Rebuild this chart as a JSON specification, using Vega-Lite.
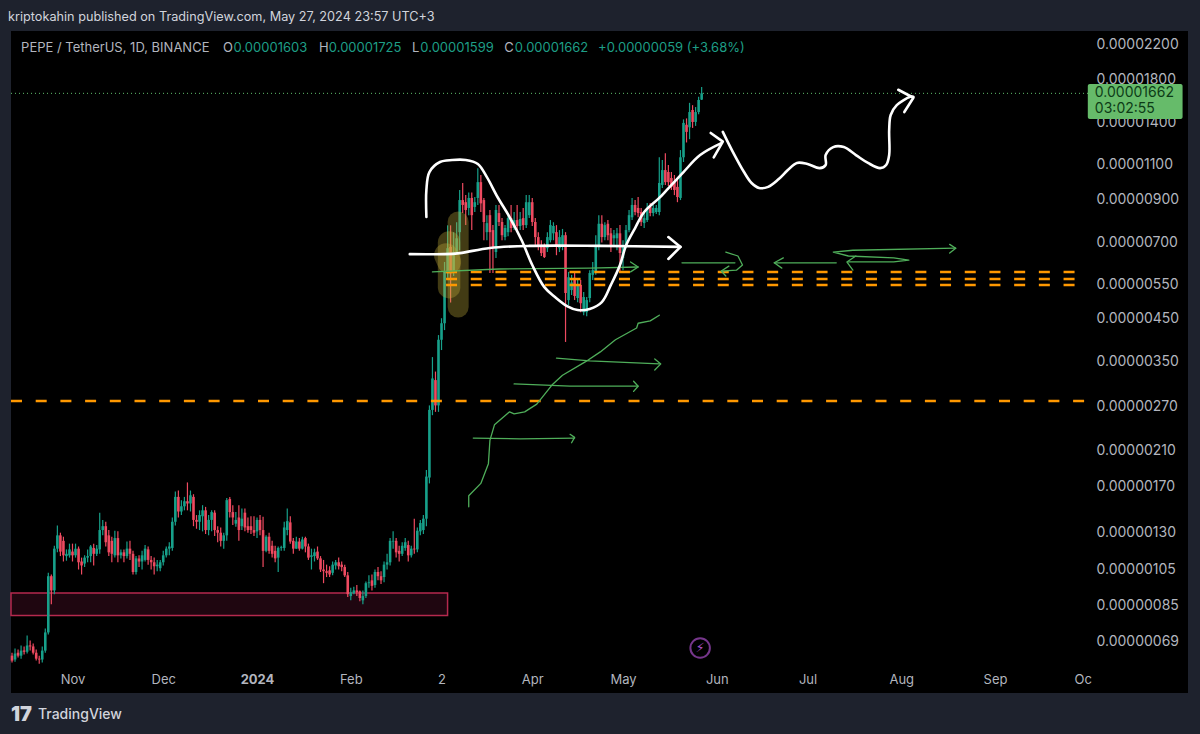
{"$schema":"https://vega.github.io/schema/vega-lite/v6.json","width":1177,"height":662,"autosize":"none","padding":{"left":11,"top":31,"right":12,"bottom":41},"background":"#1e222d","view":{"fill":"#000000","stroke":null},
"title":{"text":"kriptokahin published on TradingView.com, May 27, 2024 23:57 UTC+3","anchor":"start","frame":"group","orient":"top","offset":7,"dx":-3,"font":"Inter","fontSize":12.7,"fontWeight":"normal","color":"#d1d4dc"},
"datasets":{
"candles":[
{"t":"2023-10-12","o":63.7,"c":61.9,"h":64.8,"l":61.2},{"t":"2023-10-13","o":62.3,"c":64.5,"h":66.4,"l":61.5},{"t":"2023-10-14","o":64.8,"c":63.7,"h":66,"l":63},{"t":"2023-10-15","o":63.7,"c":65.6,"h":67.6,"l":62.6},{"t":"2023-10-16","o":65.6,"c":65.2,"h":67.2,"l":64.1},{"t":"2023-10-17","o":65.2,"c":67.6,"h":71.6,"l":64.5},{"t":"2023-10-18","o":67.6,"c":67.2,"h":69.6,"l":65.6},{"t":"2023-10-19","o":67.2,"c":64.8,"h":68.4,"l":64.1},{"t":"2023-10-20","o":64.8,"c":62.6,"h":66,"l":61.9},{"t":"2023-10-21","o":62.6,"c":62.3,"h":63.7,"l":60.8},
{"t":"2023-10-22","o":62.3,"c":65.6,"h":67.2,"l":61.2},{"t":"2023-10-23","o":65.6,"c":72.9,"h":74.6,"l":64.8},{"t":"2023-10-24","o":72.9,"c":101,"h":103,"l":72},{"t":"2023-10-25","o":101,"c":93,"h":102,"l":85.8},{"t":"2023-10-26","o":93,"c":118.5,"h":120.5,"l":91},{"t":"2023-10-27","o":118.5,"c":128,"h":135.5,"l":116},{"t":"2023-10-28","o":128,"c":116.5,"h":130,"l":113.5},{"t":"2023-10-29","o":124,"c":114,"h":127,"l":110},{"t":"2023-10-30","o":113.5,"c":115,"h":118,"l":110.5},{"t":"2023-10-31","o":114,"c":118,"h":122,"l":112.5},
{"t":"2023-11-01","o":116.5,"c":114,"h":122,"l":110},{"t":"2023-11-02","o":114,"c":118.5,"h":122,"l":112.5},{"t":"2023-11-03","o":118.5,"c":109.5,"h":120,"l":105},{"t":"2023-11-04","o":110,"c":107.5,"h":112.5,"l":102},{"t":"2023-11-05","o":108.7,"c":112.5,"h":114,"l":106.5},{"t":"2023-11-06","o":112.5,"c":113.5,"h":118,"l":109.5},{"t":"2023-11-07","o":113.5,"c":120,"h":121,"l":109.5},{"t":"2023-11-08","o":119,"c":115,"h":122,"l":107.5},{"t":"2023-11-09","o":115,"c":118.5,"h":121,"l":113.5},{"t":"2023-11-10","o":118,"c":132,"h":146,"l":115},
{"t":"2023-11-11","o":132,"c":135,"h":140,"l":128},{"t":"2023-11-12","o":135,"c":123,"h":138.5,"l":120},{"t":"2023-11-13","o":128,"c":116,"h":132,"l":113.5},{"t":"2023-11-14","o":124,"c":115,"h":127,"l":109.5},{"t":"2023-11-15","o":114,"c":126,"h":131.5,"l":112.5},{"t":"2023-11-16","o":126,"c":114,"h":131,"l":109.5},{"t":"2023-11-17","o":114,"c":116,"h":118,"l":112},{"t":"2023-11-18","o":116,"c":113.5,"h":118,"l":109.5},{"t":"2023-11-19","o":113.5,"c":118.5,"h":123.5,"l":112},{"t":"2023-11-20","o":118.5,"c":115,"h":124,"l":111},
{"t":"2023-11-21","o":115,"c":103.5,"h":117,"l":102},{"t":"2023-11-22","o":103.5,"c":112,"h":113.5,"l":102},{"t":"2023-11-23","o":112,"c":110,"h":114,"l":106.5},{"t":"2023-11-24","o":110,"c":114,"h":117,"l":105},{"t":"2023-11-25","o":111,"c":118.5,"h":121,"l":110},{"t":"2023-11-26","o":118,"c":111,"h":120,"l":108},{"t":"2023-11-27","o":111,"c":109.5,"h":113.5,"l":105},{"t":"2023-11-28","o":109.5,"c":107,"h":112.5,"l":102},{"t":"2023-11-29","o":107,"c":108,"h":111,"l":104},{"t":"2023-11-30","o":105.8,"c":109.5,"h":111,"l":104},
{"t":"2023-12-01","o":109.5,"c":114,"h":117,"l":107.5},{"t":"2023-12-02","o":114,"c":118.5,"h":120,"l":112.5},{"t":"2023-12-03","o":118.5,"c":120,"h":123,"l":114},{"t":"2023-12-04","o":119,"c":138.5,"h":142,"l":117},{"t":"2023-12-05","o":138.5,"c":160,"h":165,"l":135.5},{"t":"2023-12-06","o":160,"c":147,"h":166,"l":142},{"t":"2023-12-07","o":147,"c":151.5,"h":157,"l":144},{"t":"2023-12-08","o":151.5,"c":156,"h":160,"l":148},{"t":"2023-12-09","o":156,"c":154,"h":174,"l":148},{"t":"2023-12-10","o":154,"c":161.5,"h":166,"l":147},
{"t":"2023-12-11","o":160,"c":140,"h":162.5,"l":135},{"t":"2023-12-12","o":140,"c":138.5,"h":144,"l":133},{"t":"2023-12-13","o":138.5,"c":144,"h":148,"l":132},{"t":"2023-12-14","o":143,"c":148,"h":152.5,"l":131},{"t":"2023-12-15","o":148,"c":132,"h":151,"l":129},{"t":"2023-12-16","o":132,"c":140,"h":144,"l":128},{"t":"2023-12-17","o":140,"c":146.5,"h":148,"l":131},{"t":"2023-12-18","o":146,"c":132,"h":148,"l":127.5},{"t":"2023-12-19","o":132,"c":130,"h":135,"l":123},{"t":"2023-12-20","o":130,"c":124,"h":134,"l":120},
{"t":"2023-12-21","o":124,"c":128,"h":130,"l":118.5},{"t":"2023-12-22","o":128,"c":157,"h":159,"l":124},{"t":"2023-12-23","o":158,"c":146.5,"h":160,"l":142},{"t":"2023-12-24","o":146.5,"c":142,"h":152.5,"l":136},{"t":"2023-12-25","o":137,"c":140,"h":146.5,"l":134.5},{"t":"2023-12-26","o":142,"c":132,"h":152.5,"l":124},{"t":"2023-12-27","o":135,"c":141,"h":149.5,"l":132},{"t":"2023-12-28","o":146,"c":134,"h":149.5,"l":131},{"t":"2023-12-29","o":135,"c":132,"h":142,"l":130},{"t":"2023-12-30","o":135,"c":132,"h":143,"l":129},{"t":"2023-12-31","o":132,"c":130,"h":143,"l":127.5},
{"t":"2024-01-01","o":131,"c":140,"h":142,"l":126},{"t":"2024-01-02","o":140,"c":132,"h":144,"l":128},{"t":"2024-01-03","o":132,"c":117,"h":142.5,"l":106.5},{"t":"2024-01-04","o":117,"c":127,"h":128,"l":116},{"t":"2024-01-05","o":127,"c":117,"h":130,"l":115},{"t":"2024-01-06","o":120.5,"c":115,"h":124,"l":112.5},{"t":"2024-01-07","o":117,"c":112,"h":120.5,"l":109.5},{"t":"2024-01-08","o":112.5,"c":119,"h":120,"l":103.5},{"t":"2024-01-09","o":119,"c":119.5,"h":120.5,"l":117},{"t":"2024-01-10","o":119,"c":134,"h":138.5,"l":117},
{"t":"2024-01-11","o":132,"c":139,"h":149.5,"l":128},{"t":"2024-01-12","o":138,"c":123.5,"h":143,"l":122},{"t":"2024-01-13","o":124,"c":118.5,"h":126,"l":115},{"t":"2024-01-14","o":118.5,"c":123.5,"h":127,"l":118.5},{"t":"2024-01-15","o":123.5,"c":118.5,"h":126,"l":117},{"t":"2024-01-16","o":118.5,"c":125,"h":127,"l":118},{"t":"2024-01-17","o":126,"c":120,"h":127,"l":116},{"t":"2024-01-18","o":120,"c":112.5,"h":122,"l":111},{"t":"2024-01-19","o":113,"c":114,"h":118.5,"l":105},{"t":"2024-01-20","o":113.5,"c":116,"h":118.5,"l":110},
{"t":"2024-01-21","o":116.5,"c":112,"h":120,"l":111},{"t":"2024-01-22","o":112,"c":105,"h":113.5,"l":103.5},{"t":"2024-01-23","o":105,"c":104,"h":111,"l":97},{"t":"2024-01-24","o":104,"c":103,"h":108,"l":100.5},{"t":"2024-01-25","o":104.5,"c":102,"h":107,"l":100.5},{"t":"2024-01-26","o":103,"c":108,"h":110,"l":101.5},{"t":"2024-01-27","o":107.5,"c":109.5,"h":111,"l":105},{"t":"2024-01-28","o":109.5,"c":107,"h":112.5,"l":105},{"t":"2024-01-29","o":108,"c":106.5,"h":110,"l":104},{"t":"2024-01-30","o":106.5,"c":101.5,"h":108,"l":100.5},{"t":"2024-01-31","o":101.5,"c":91,"h":103.5,"l":89.5},
{"t":"2024-02-01","o":90,"c":92,"h":94.5,"l":87.8},{"t":"2024-02-02","o":91.5,"c":93,"h":95,"l":91},{"t":"2024-02-03","o":93,"c":92,"h":96,"l":90},{"t":"2024-02-04","o":92.5,"c":89,"h":93,"l":87.3},{"t":"2024-02-05","o":87.8,"c":90,"h":93,"l":85.8},{"t":"2024-02-06","o":90,"c":97,"h":98,"l":89},{"t":"2024-02-07","o":97,"c":97.5,"h":101.5,"l":94.5},{"t":"2024-02-08","o":98.6,"c":95.5,"h":102,"l":93},{"t":"2024-02-09","o":96,"c":103.5,"h":105,"l":94.5},{"t":"2024-02-10","o":103.5,"c":101,"h":106.5,"l":98.6},
{"t":"2024-02-11","o":101,"c":98.6,"h":104,"l":96.5},{"t":"2024-02-12","o":100.5,"c":108,"h":110,"l":97.5},{"t":"2024-02-13","o":108,"c":109.5,"h":115,"l":105},{"t":"2024-02-14","o":109.5,"c":124,"h":126,"l":107.5},{"t":"2024-02-15","o":123.5,"c":124,"h":131,"l":118.5},{"t":"2024-02-16","o":124,"c":116,"h":126,"l":112.5},{"t":"2024-02-17","o":117,"c":115,"h":120.5,"l":110},{"t":"2024-02-18","o":115,"c":120.5,"h":123,"l":113.5},{"t":"2024-02-19","o":119,"c":123,"h":126,"l":117},{"t":"2024-02-20","o":121,"c":114,"h":124,"l":110},
{"t":"2024-02-21","o":114,"c":118.5,"h":120.5,"l":112.5},{"t":"2024-02-22","o":118.5,"c":118,"h":141,"l":115},{"t":"2024-02-23","o":118,"c":131.5,"h":134,"l":116},{"t":"2024-02-24","o":131,"c":137.5,"h":140,"l":128},{"t":"2024-02-25","o":132,"c":141,"h":144,"l":129},{"t":"2024-02-26","o":141,"c":180,"h":187,"l":135},{"t":"2024-02-27","o":179,"c":265,"h":272,"l":173},{"t":"2024-02-28","o":265,"c":318,"h":360,"l":257},{"t":"2024-02-29","o":315,"c":272,"h":331,"l":262},
{"t":"2024-03-01","o":272,"c":398,"h":409,"l":262},{"t":"2024-03-02","o":398,"c":438,"h":451,"l":375},{"t":"2024-03-03","o":438,"c":590,"h":625,"l":421},{"t":"2024-03-04","o":590,"c":677,"h":773,"l":570},{"t":"2024-03-05","o":682,"c":586,"h":773,"l":494},{"t":"2024-03-06","o":590,"c":662,"h":743,"l":576},{"t":"2024-03-07","o":662,"c":717,"h":787,"l":654},{"t":"2024-03-08","o":743,"c":895,"h":949,"l":669},{"t":"2024-03-09","o":895,"c":870,"h":988,"l":830},{"t":"2024-03-10","o":884,"c":845,"h":921,"l":774},
{"t":"2024-03-11","o":855,"c":906,"h":935,"l":820},{"t":"2024-03-12","o":906,"c":820,"h":935,"l":752},{"t":"2024-03-13","o":860,"c":884,"h":911,"l":835},{"t":"2024-03-14","o":906,"c":993,"h":1077,"l":870},{"t":"2024-03-15","o":993,"c":878,"h":1035,"l":835},{"t":"2024-03-16","o":895,"c":788,"h":906,"l":709},{"t":"2024-03-17","o":743,"c":783,"h":820,"l":709},{"t":"2024-03-18","o":820,"c":743,"h":845,"l":586},{"t":"2024-03-19","o":752,"c":682,"h":774,"l":586},{"t":"2024-03-20","o":662,"c":845,"h":870,"l":640},
{"t":"2024-03-21","o":830,"c":788,"h":870,"l":770},{"t":"2024-03-22","o":788,"c":730,"h":806,"l":709},{"t":"2024-03-23","o":722,"c":761,"h":774,"l":709},{"t":"2024-03-24","o":743,"c":806,"h":830,"l":726},{"t":"2024-03-25","o":806,"c":761,"h":870,"l":743},{"t":"2024-03-26","o":761,"c":797,"h":835,"l":752},{"t":"2024-03-27","o":797,"c":770,"h":870,"l":752},{"t":"2024-03-28","o":770,"c":802,"h":835,"l":752},{"t":"2024-03-29","o":806,"c":774,"h":855,"l":752},{"t":"2024-03-30","o":774,"c":884,"h":921,"l":761},{"t":"2024-03-31","o":820,"c":884,"h":921,"l":806},
{"t":"2024-04-01","o":884,"c":788,"h":906,"l":770},{"t":"2024-04-02","o":788,"c":722,"h":806,"l":682},{"t":"2024-04-03","o":722,"c":688,"h":743,"l":669},{"t":"2024-04-04","o":688,"c":658,"h":709,"l":647},{"t":"2024-04-05","o":682,"c":643,"h":696,"l":640},{"t":"2024-04-06","o":677,"c":722,"h":743,"l":662},{"t":"2024-04-07","o":709,"c":774,"h":797,"l":700},{"t":"2024-04-08","o":738,"c":770,"h":787,"l":709},{"t":"2024-04-09","o":743,"c":688,"h":774,"l":650},{"t":"2024-04-10","o":677,"c":722,"h":752,"l":662},
{"t":"2024-04-11","o":688,"c":730,"h":757,"l":669},{"t":"2024-04-12","o":730,"c":522,"h":743,"l":393},{"t":"2024-04-13","o":501,"c":572,"h":590,"l":487},{"t":"2024-04-14","o":531,"c":555,"h":580,"l":516},{"t":"2024-04-15","o":570,"c":513,"h":590,"l":501},{"t":"2024-04-16","o":507,"c":547,"h":563,"l":495},{"t":"2024-04-17","o":547,"c":492,"h":563,"l":467},{"t":"2024-04-18","o":467,"c":510,"h":525,"l":459},{"t":"2024-04-19","o":467,"c":501,"h":510,"l":456},{"t":"2024-04-20","o":507,"c":586,"h":596,"l":495},
{"t":"2024-04-21","o":580,"c":596,"h":625,"l":563},{"t":"2024-04-22","o":590,"c":688,"h":730,"l":580},{"t":"2024-04-23","o":688,"c":780,"h":820,"l":669},{"t":"2024-04-24","o":780,"c":722,"h":820,"l":700},{"t":"2024-04-25","o":722,"c":774,"h":787,"l":709},{"t":"2024-04-26","o":780,"c":730,"h":797,"l":709},{"t":"2024-04-27","o":738,"c":682,"h":761,"l":662},{"t":"2024-04-28","o":717,"c":730,"h":752,"l":688},{"t":"2024-04-29","o":717,"c":738,"h":761,"l":669},{"t":"2024-04-30","o":738,"c":658,"h":774,"l":590},
{"t":"2024-05-01","o":640,"c":688,"h":709,"l":596},{"t":"2024-05-02","o":688,"c":752,"h":774,"l":677},{"t":"2024-05-03","o":752,"c":820,"h":845,"l":743},{"t":"2024-05-04","o":810,"c":870,"h":906,"l":797},{"t":"2024-05-05","o":870,"c":835,"h":895,"l":820},{"t":"2024-05-06","o":855,"c":830,"h":911,"l":810},{"t":"2024-05-07","o":835,"c":788,"h":855,"l":770},{"t":"2024-05-08","o":783,"c":806,"h":835,"l":761},{"t":"2024-05-09","o":797,"c":855,"h":880,"l":788},{"t":"2024-05-10","o":860,"c":830,"h":880,"l":815},
{"t":"2024-05-11","o":830,"c":855,"h":870,"l":815},{"t":"2024-05-12","o":835,"c":855,"h":870,"l":825},{"t":"2024-05-13","o":835,"c":988,"h":1147,"l":820},{"t":"2024-05-14","o":977,"c":1065,"h":1129,"l":960},{"t":"2024-05-15","o":1065,"c":993,"h":1174,"l":977},{"t":"2024-05-16","o":1053,"c":993,"h":1097,"l":971},{"t":"2024-05-17","o":1017,"c":966,"h":1053,"l":949},{"t":"2024-05-18","o":993,"c":949,"h":1035,"l":921},{"t":"2024-05-19","o":966,"c":911,"h":1005,"l":884},{"t":"2024-05-20","o":906,"c":1147,"h":1196,"l":895},
{"t":"2024-05-21","o":1147,"c":1400,"h":1429,"l":1116},{"t":"2024-05-22","o":1385,"c":1329,"h":1437,"l":1250},{"t":"2024-05-23","o":1365,"c":1491,"h":1573,"l":1274},{"t":"2024-05-24","o":1509,"c":1408,"h":1552,"l":1360},{"t":"2024-05-25","o":1408,"c":1491,"h":1535,"l":1376},{"t":"2024-05-26","o":1491,"c":1599,"h":1629,"l":1473},{"t":"2024-05-27","o":1603,"c":1662,"h":1725,"l":1599}
],
"zone":[{"t0":"2023-10-11T16:00Z","t1":"2024-03-04","v0":91.6,"v1":80.4}],
"levels":[{"id":"a","t":"2024-03-03T12:00Z","v":589.6},{"id":"a","t":"2024-09-28T12:00Z","v":589.6},{"id":"b","t":"2024-03-03T12:00Z","v":566},{"id":"b","t":"2024-09-28T12:00Z","v":566},{"id":"c","t":"2024-03-03T12:00Z","v":547},{"id":"c","t":"2024-09-28T12:00Z","v":547},{"id":"d","t":"2023-10-11T16:00Z","v":279},{"id":"d","t":"2024-10-01","v":279}],
"last":[{"t":"2023-10-11T16:00Z","v":1662},{"t":"2024-10-02","v":1662}],
"blobs":[{"id":"b1","t":"2024-03-07T12:00Z","v":788},{"id":"b1","t":"2024-03-07T12:00Z","v":481},{"id":"b2","t":"2024-03-04T12:00Z","v":700},{"id":"b2","t":"2024-03-04T12:00Z","v":540},{"id":"b3","t":"2024-03-03T12:00Z","v":650},{"id":"b3","t":"2024-03-04T12:00Z","v":625}],
"white":[
{"id":"w1","t":"2024-02-26","v":811},{"id":"w1","t":"2024-02-26","v":949},{"id":"w1","t":"2024-02-27","v":1053},{"id":"w1","t":"2024-03-01T12:00Z","v":1116},{"id":"w1","t":"2024-03-05T12:00Z","v":1129},{"id":"w1","t":"2024-03-10","v":1129},{"id":"w1","t":"2024-03-14","v":1103},{"id":"w1","t":"2024-03-17","v":1022},{"id":"w1","t":"2024-03-20T12:00Z","v":911},{"id":"w1","t":"2024-03-24T12:00Z","v":811},{"id":"w1","t":"2024-03-28T12:00Z","v":709},{"id":"w1","t":"2024-04-01","v":614},{"id":"w1","t":"2024-04-05","v":540},{"id":"w1","t":"2024-04-08T12:00Z","v":510},{"id":"w1","t":"2024-04-12T12:00Z","v":484},{"id":"w1","t":"2024-04-16","v":473},{"id":"w1","t":"2024-04-20","v":476},{"id":"w1","t":"2024-04-24","v":495},{"id":"w1","t":"2024-04-27","v":547},{"id":"w1","t":"2024-04-30","v":614},{"id":"w1","t":"2024-05-02","v":688},{"id":"w1","t":"2024-05-05","v":761},{"id":"w1","t":"2024-05-08","v":835},{"id":"w1","t":"2024-05-13","v":906},{"id":"w1","t":"2024-05-15T12:00Z","v":949},{"id":"w1","t":"2024-05-21","v":1053},{"id":"w1","t":"2024-05-26T12:00Z","v":1162},{"id":"w1","t":"2024-06-02T12:00Z","v":1245},
{"id":"w2","t":"2024-02-20T12:00Z","v":654},{"id":"w2","t":"2024-03-03","v":654},{"id":"w2","t":"2024-03-08","v":658},{"id":"w2","t":"2024-03-18","v":678},{"id":"w2","t":"2024-03-31","v":686},{"id":"w2","t":"2024-04-23T12:00Z","v":686},{"id":"w2","t":"2024-05-20","v":682},
{"id":"w3","t":"2024-06-03","v":1329},{"id":"w3","t":"2024-06-06","v":1196},{"id":"w3","t":"2024-06-10","v":1053},{"id":"w3","t":"2024-06-12T12:00Z","v":988},{"id":"w3","t":"2024-06-15","v":960},{"id":"w3","t":"2024-06-18","v":966},{"id":"w3","t":"2024-06-21T12:00Z","v":1011},{"id":"w3","t":"2024-06-24T12:00Z","v":1065},{"id":"w3","t":"2024-06-27T12:00Z","v":1110},{"id":"w3","t":"2024-07-01","v":1103},{"id":"w3","t":"2024-07-05","v":1077},{"id":"w3","t":"2024-07-07","v":1097},{"id":"w3","t":"2024-07-07","v":1162},{"id":"w3","t":"2024-07-09T12:00Z","v":1217},{"id":"w3","t":"2024-07-13","v":1217},{"id":"w3","t":"2024-07-17","v":1162},{"id":"w3","t":"2024-07-21","v":1110},{"id":"w3","t":"2024-07-25","v":1077},{"id":"w3","t":"2024-07-27","v":1097},{"id":"w3","t":"2024-07-28","v":1162},{"id":"w3","t":"2024-07-28","v":1344},{"id":"w3","t":"2024-07-28T12:00Z","v":1466},{"id":"w3","t":"2024-07-30T12:00Z","v":1552},{"id":"w3","t":"2024-08-04","v":1629},{"id":"w3","t":"2024-08-05","v":1629}],
"heads":[
{"id":"h1","t":"2024-05-30","v":1321},{"id":"h1","t":"2024-06-03","v":1256},{"id":"h1","t":"2024-05-31","v":1147},
{"id":"h2","t":"2024-05-16","v":722},{"id":"h2","t":"2024-05-20","v":682},{"id":"h2","t":"2024-05-16","v":636},
{"id":"h3","t":"2024-07-31","v":1697},{"id":"h3","t":"2024-08-05","v":1620},{"id":"h3","t":"2024-08-02","v":1491}],
"green":[
{"id":"g1","t":"2024-02-28","v":590},{"id":"g1","t":"2024-03-21","v":600},{"id":"g1","t":"2024-04-20","v":603},{"id":"g1","t":"2024-05-06","v":607},{"id":"g1h","t":"2024-05-03T12:00Z","v":625},{"id":"g1h","t":"2024-05-06","v":607},{"id":"g1h","t":"2024-05-03T12:00Z","v":590},
{"id":"g2","t":"2024-05-20T12:00Z","v":622},{"id":"g2","t":"2024-06-02","v":622},{"id":"g2","t":"2024-06-07","v":622},{"id":"g2b","t":"2024-06-04","v":662},{"id":"g2b","t":"2024-06-08","v":647},{"id":"g2b","t":"2024-06-09T12:00Z","v":614},{"id":"g2b","t":"2024-06-07T12:00Z","v":596},{"id":"g2b","t":"2024-06-02T12:00Z","v":593},{"id":"g2h","t":"2024-06-05","v":610},{"id":"g2h","t":"2024-06-02T12:00Z","v":593},{"id":"g2h","t":"2024-06-04","v":576},
{"id":"g3","t":"2024-06-20","v":622},{"id":"g3","t":"2024-07-10T12:00Z","v":622},{"id":"g3h","t":"2024-06-23","v":640},{"id":"g3h","t":"2024-06-20","v":622},{"id":"g3h","t":"2024-06-22T12:00Z","v":603},
{"id":"g4","t":"2024-08-19","v":677},{"id":"g4","t":"2024-07-16","v":669},{"id":"g4","t":"2024-07-09T12:00Z","v":662},{"id":"g4","t":"2024-07-14T12:00Z","v":647},{"id":"g4","t":"2024-07-29T12:00Z","v":640},{"id":"g4","t":"2024-08-03T12:00Z","v":632},{"id":"g4","t":"2024-07-29T12:00Z","v":625},{"id":"g4","t":"2024-07-14T12:00Z","v":625},{"id":"g4h","t":"2024-07-17","v":647},{"id":"g4h","t":"2024-07-14","v":625},{"id":"g4h","t":"2024-07-16","v":596},{"id":"g4r","t":"2024-08-17","v":692},{"id":"g4r","t":"2024-08-19","v":677},{"id":"g4r","t":"2024-08-17","v":658},
{"id":"g5","t":"2024-03-11","v":151},{"id":"g5","t":"2024-03-11","v":161},{"id":"g5","t":"2024-03-15","v":173},{"id":"g5","t":"2024-03-17T12:00Z","v":194},{"id":"g5","t":"2024-03-18","v":222},{"id":"g5","t":"2024-03-19T12:00Z","v":243},{"id":"g5","t":"2024-03-24T12:00Z","v":262},{"id":"g5","t":"2024-03-26","v":259},{"id":"g5","t":"2024-03-29T12:00Z","v":262},{"id":"g5","t":"2024-04-02T12:00Z","v":274},{"id":"g5","t":"2024-04-07T12:00Z","v":306},{"id":"g5","t":"2024-04-11","v":324},{"id":"g5","t":"2024-04-18T12:00Z","v":350},{"id":"g5","t":"2024-04-23T12:00Z","v":371},{"id":"g5","t":"2024-04-28T12:00Z","v":398},{"id":"g5","t":"2024-05-05T12:00Z","v":426},{"id":"g5","t":"2024-05-06","v":438},{"id":"g5","t":"2024-05-10","v":444},{"id":"g5","t":"2024-05-13","v":459},
{"id":"g6","t":"2024-04-09","v":358},{"id":"g6","t":"2024-04-20","v":352},{"id":"g6","t":"2024-05-13","v":346},{"id":"g6h","t":"2024-05-11T12:00Z","v":356},{"id":"g6h","t":"2024-05-13T12:00Z","v":346},{"id":"g6h","t":"2024-05-11T12:00Z","v":334},
{"id":"g7","t":"2024-03-26","v":308},{"id":"g7","t":"2024-04-13T12:00Z","v":304},{"id":"g7","t":"2024-05-06","v":304},{"id":"g7h","t":"2024-05-04T12:00Z","v":313},{"id":"g7h","t":"2024-05-06","v":304},{"id":"g7h","t":"2024-05-04T12:00Z","v":295},
{"id":"g8","t":"2024-03-12T12:00Z","v":225},{"id":"g8","t":"2024-03-28","v":224},{"id":"g8","t":"2024-04-15","v":225},{"id":"g8h","t":"2024-04-13T12:00Z","v":230},{"id":"g8h","t":"2024-04-15","v":226},{"id":"g8h","t":"2024-04-14","v":219}],
"box":[{"t0":"2024-10-01T16:00Z","t1":"2024-11-02","v0":1755,"v1":1432}],
"boxText":[{"t":"2024-10-04T00:00Z","v":1665,"s":"0.00001662"},{"t":"2024-10-04T00:00Z","v":1518,"s":"03:02:55"}],
"legendText":[{"t":"2023-10-15","v":2160,"s":"PEPE / TetherUS, 1D, BINANCE","g":"head"},{"t":"2023-12-20T18:00Z","v":2160,"s":"O","g":"head"},{"t":"2023-12-24T06:00Z","v":2160,"s":"0.00001603","g":"val"},{"t":"2024-01-21T12:00Z","v":2160,"s":"H","g":"head"},{"t":"2024-01-24T18:00Z","v":2160,"s":"0.00001725","g":"val"},{"t":"2024-02-21T06:00Z","v":2160,"s":"L","g":"head"},{"t":"2024-02-24","v":2160,"s":"0.00001599","g":"val"},{"t":"2024-03-22T18:00Z","v":2160,"s":"C","g":"head"},{"t":"2024-03-26T06:00Z","v":2160,"s":"0.00001662","g":"val"},{"t":"2024-04-22T18:00Z","v":2160,"s":"+0.00000059 (+3.68%)","g":"val"}],
"brand":[{"t":"2023-10-20T14:00Z","v":45.1,"s":"TradingView"}],
"logo":[{"t":"2023-10-11T16:00Z","v":45.1,"s":"17"}],
"icon":[{"t":"2024-05-26T12:00Z","v":66.6,"s":"⚡"}]
},
"config":{"axis":{"grid":false,"title":null,"domain":false,"ticks":false}},
"layer":[
{"data":{"name":"zone"},"mark":{"type":"rect","fill":"#1f0610","stroke":"#b5294e","strokeWidth":1.5},"encoding":{
"x":{"field":"t0","type":"temporal","title":null,"scale":{"type":"utc","nice":false,"padding":0,"domain":[{"year":2023,"month":10,"date":11,"hours":16,"utc":true},{"year":2024,"month":11,"date":3,"hours":19,"utc":true}]},
"axis":{"orient":"bottom","offset":-26,"domain":false,"ticks":false,"grid":false,"title":null,"labelColor":"#b2b5be","labelFont":"Inter","labelFontSize":13,"labelPadding":6,"labelOverlap":false,"labelBound":false,"labelFlush":false,"labelFontWeight":{"condition":{"test":"utcyear(datum.value)==2024 && utcmonth(datum.value)==0","value":"bold"},"value":"normal"},
"values":[{"year":2023,"month":11,"date":1,"utc":true},{"year":2023,"month":12,"date":1,"utc":true},{"year":2024,"month":1,"date":1,"utc":true},{"year":2024,"month":2,"date":1,"utc":true},{"year":2024,"month":3,"date":2,"utc":true},{"year":2024,"month":4,"date":1,"utc":true},{"year":2024,"month":5,"date":1,"utc":true},{"year":2024,"month":6,"date":1,"utc":true},{"year":2024,"month":7,"date":1,"utc":true},{"year":2024,"month":8,"date":1,"utc":true},{"year":2024,"month":9,"date":1,"utc":true},{"year":2024,"month":9,"date":30,"utc":true}],
"labelExpr":"utcmonth(datum.value)==2 ? '2' : (utcmonth(datum.value)==0 ? '2024' : (utcdate(datum.value)==30 ? 'Oc' : utcFormat(datum.value,'%b')))"}},
"x2":{"field":"t1"},
"y":{"field":"v0","type":"quantitative","title":null,"scale":{"type":"log","nice":false,"domain":[51.3,2386]},
"axis":{"orient":"right","offset":-101,"domain":false,"ticks":false,"grid":false,"title":null,"labelColor":"#b2b5be","labelFont":"Inter","labelFontSize":14,"labelPadding":9,"labelOverlap":false,"labelBound":false,"labelFlush":false,"labelLimit":200,
"values":[2200,1800,1400,1100,900,700,550,450,350,270,210,170,130,105,85,69],"labelExpr":"format(datum.value*1e-8,'.8f')"}},
"y2":{"field":"v1"}}},
{"data":{"name":"candles"},"mark":{"type":"rule","strokeWidth":1.2},"encoding":{"x":{"field":"t","type":"temporal","title":null},"y":{"field":"l","type":"quantitative","title":null},"y2":{"field":"h"},"color":{"condition":{"test":"datum.c>=datum.o","value":"#17a08a"},"value":"#ee4a60"}}},
{"data":{"name":"candles"},"mark":{"type":"bar","size":2.6},"encoding":{"x":{"field":"t","type":"temporal","title":null},"y":{"field":"o","type":"quantitative","title":null},"y2":{"field":"c"},"color":{"condition":{"test":"datum.c>=datum.o","value":"#17a08a"},"value":"#ee4a60"}}},
{"data":{"name":"last"},"mark":{"type":"line","stroke":"#5fbf6c","strokeWidth":1,"strokeDash":[1,3]},"encoding":{"x":{"field":"t","type":"temporal","title":null},"y":{"field":"v","type":"quantitative","title":null}}},
{"data":{"name":"blobs"},"transform":[{"window":[{"op":"row_number","as":"k"}]}],"mark":{"type":"line","stroke":"#c9b23c","opacity":0.33,"strokeCap":"round"},"encoding":{"x":{"field":"t","type":"temporal","title":null},"y":{"field":"v","type":"quantitative","title":null},"detail":{"field":"id"},"order":{"field":"k"},"strokeWidth":{"field":"id","type":"nominal","scale":{"domain":["b1","b2","b3"],"range":[21,24,32]},"legend":null}}},
{"data":{"name":"levels"},"mark":{"type":"line","stroke":"#ff9800","strokeWidth":2.4,"strokeDash":[11,13.7]},"encoding":{"x":{"field":"t","type":"temporal","title":null},"y":{"field":"v","type":"quantitative","title":null},"detail":{"field":"id"}}},
{"data":{"name":"green"},"transform":[{"window":[{"op":"row_number","as":"k"}]}],"mark":{"type":"line","stroke":"#4fae5a","strokeWidth":1.3,"strokeJoin":"round","strokeCap":"round"},"encoding":{"x":{"field":"t","type":"temporal","title":null},"y":{"field":"v","type":"quantitative","title":null},"detail":{"field":"id"},"order":{"field":"k"}}},
{"data":{"name":"white"},"transform":[{"window":[{"op":"row_number","as":"k"}]}],"mark":{"type":"line","stroke":"#ffffff","strokeWidth":2.6,"interpolate":"catmull-rom","strokeCap":"round"},"encoding":{"x":{"field":"t","type":"temporal","title":null},"y":{"field":"v","type":"quantitative","title":null},"detail":{"field":"id"},"order":{"field":"k"}}},
{"data":{"name":"heads"},"transform":[{"window":[{"op":"row_number","as":"k"}]}],"mark":{"type":"line","stroke":"#ffffff","strokeWidth":2.6,"strokeCap":"round","strokeJoin":"round"},"encoding":{"x":{"field":"t","type":"temporal","title":null},"y":{"field":"v","type":"quantitative","title":null},"detail":{"field":"id"},"order":{"field":"k"}}},
{"data":{"name":"box"},"mark":{"type":"rect","fill":"#66bb6a","cornerRadius":2},"encoding":{"x":{"field":"t0","type":"temporal","title":null},"x2":{"field":"t1"},"y":{"field":"v0","type":"quantitative","title":null},"y2":{"field":"v1"}}},
{"data":{"name":"boxText"},"mark":{"type":"text","align":"left","baseline":"middle","font":"Inter","fontSize":14,"color":"#0d3b17"},"encoding":{"x":{"field":"t","type":"temporal","title":null},"y":{"field":"v","type":"quantitative","title":null},"text":{"field":"s"}}},
{"data":{"name":"legendText"},"mark":{"type":"text","align":"left","baseline":"middle","font":"Inter","fontSize":13},"encoding":{"x":{"field":"t","type":"temporal","title":null},"y":{"field":"v","type":"quantitative","title":null},"text":{"field":"s"},"color":{"field":"g","type":"nominal","scale":{"domain":["head","val"],"range":["#b2b5be","#1e9e86"]},"legend":null}}},
{"data":{"name":"brand"},"mark":{"type":"text","align":"left","baseline":"middle","font":"Inter","fontSize":14,"fontWeight":500,"color":"#d1d4dc"},"encoding":{"x":{"field":"t","type":"temporal","title":null},"y":{"field":"v","type":"quantitative","title":null},"text":{"field":"s"}}},
{"data":{"name":"logo"},"mark":{"type":"text","align":"left","baseline":"middle","font":"Inter","fontSize":20,"fontWeight":900,"color":"#d1d4dc"},"encoding":{"x":{"field":"t","type":"temporal","title":null},"y":{"field":"v","type":"quantitative","title":null},"text":{"field":"s"}}},
{"data":{"name":"icon"},"mark":{"type":"point","filled":false,"stroke":"#a94ec7","strokeWidth":2,"size":380},"encoding":{"x":{"field":"t","type":"temporal","title":null},"y":{"field":"v","type":"quantitative","title":null}}},
{"data":{"name":"icon"},"mark":{"type":"text","font":"DejaVu Sans","fontSize":13,"color":"#a94ec7","baseline":"middle"},"encoding":{"x":{"field":"t","type":"temporal","title":null},"y":{"field":"v","type":"quantitative","title":null},"text":{"field":"s"}}}
]}
